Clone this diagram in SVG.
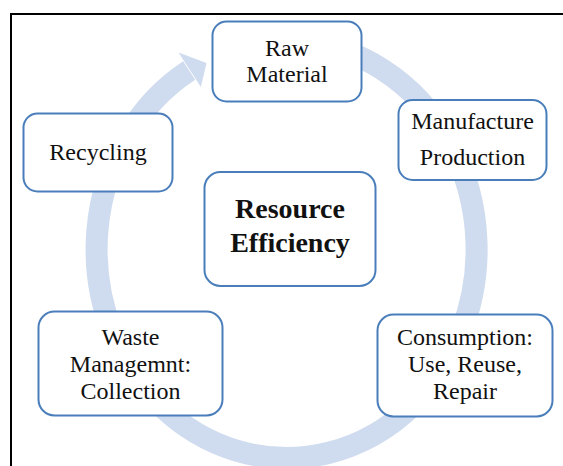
<svg xmlns="http://www.w3.org/2000/svg" width="563" height="466" viewBox="0 0 563 466">
  <style>
    .frame { fill: none; stroke: #000; stroke-width: 2; }
    .box { fill: #fff; stroke: #4a7ebb; stroke-width: 2; }
    .ring { fill: none; stroke: #cfdbee; stroke-width: 22; }
    .head { fill: #cfdbee; }
    .lbl { font-family: "Liberation Serif", "Times New Roman", serif; font-size: 24px; fill: #111; text-anchor: middle; }
    .core { font-family: "Liberation Serif", "Times New Roman", serif; font-size: 28px; font-weight: bold; fill: #111; text-anchor: middle; }
  </style>

  <rect width="563" height="466" fill="#fff"/>
  <rect class="frame" x="11" y="14" width="600" height="500"/>

  <!-- cycle arrow running clockwise round the centre node -->
  <g id="connectors">
    <path class="ring" d="M 303.1 41.8 A 190 208.5 0 1 1 189.2 70.5"/>
    <polygon class="head" points="178.5,52.5 206.5,63 200.9,86.9"/>
  </g>

  <g id="raw-material">
    <rect class="box" x="212.5" y="21.5" width="149" height="80" rx="14"/>
    <text class="lbl" x="287" y="55.5">Raw</text>
    <text class="lbl" x="287" y="82">Material</text>
  </g>

  <g id="manufacture">
    <rect class="box" x="398.5" y="100" width="148" height="80" rx="14"/>
    <text class="lbl" x="472.5" y="129">Manufacture</text>
    <text class="lbl" x="472.5" y="165">Production</text>
  </g>

  <g id="recycling">
    <rect class="box" x="23.5" y="113.5" width="149" height="78" rx="14"/>
    <text class="lbl" x="98" y="159.5">Recycling</text>
  </g>

  <g id="resource-efficiency">
    <rect class="box" x="204.5" y="172" width="171" height="114" rx="16"/>
    <text class="core" x="290" y="218">Resource</text>
    <text class="core" x="290" y="252">Efficiency</text>
  </g>

  <g id="waste-management">
    <rect class="box" x="38.5" y="311.5" width="184" height="104" rx="16"/>
    <text class="lbl" x="130.5" y="345">Waste</text>
    <text class="lbl" x="130.5" y="372">Managemnt:</text>
    <text class="lbl" x="130.5" y="399">Collection</text>
  </g>

  <g id="consumption">
    <rect class="box" x="377.5" y="314.5" width="175" height="102" rx="16"/>
    <text class="lbl" x="465" y="345">Consumption:</text>
    <text class="lbl" x="465" y="372">Use, Reuse,</text>
    <text class="lbl" x="465" y="398.5">Repair</text>
  </g>
</svg>
